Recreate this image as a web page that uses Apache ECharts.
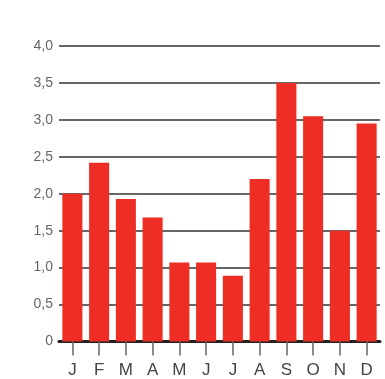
<!DOCTYPE html>
<html>
  <head>
    <meta charset="utf-8" />
    <script src="https://cdn.jsdelivr.net/npm/echarts@6/dist/echarts.min.js"></script>
    <style>
      html, body { margin: 0; padding: 0; background: #fff; }
      #main { width: 385px; height: 379px; }
    </style>
  </head>

  <body>
    <div id="main"></div>
    <script type="text/javascript">
      // months along the bottom
      var months = ['J', 'F', 'M', 'A', 'M', 'J', 'J', 'A', 'S', 'O', 'N', 'D'];
      // monthly values
      var values = [2.0, 2.42, 1.93, 1.68, 1.07, 1.07, 0.89, 2.2, 3.5, 3.05, 1.5, 2.95];
      var yTicks = ['0', '0,5', '1,0', '1,5', '2,0', '2,5', '3,0', '3,5', '4,0'];

      var myChart = echarts.init(document.getElementById('main'));

      var option = {
        animation: false,
        grid: { left: 59, right: 5, top: 46, bottom: 37.5 },
        xAxis: {
          type: 'category',
          data: months,
          axisLine: { lineStyle: { color: '#222', width: 3 } },
          axisTick: { show: true, alignWithLabel: true, length: 14, lineStyle: { color: '#666', width: 1.5 } },
          axisLabel: {
            margin: 20,
            fontSize: 17,
            color: '#444',
            fontFamily: 'Liberation Sans, Arial, sans-serif'
          }
        },
        yAxis: {
          type: 'value',
          min: 0,
          max: 4,
          interval: 0.5,
          axisLine: { show: false },
          axisTick: { show: false },
          splitLine: { lineStyle: { color: '#333', width: 1.5 } },
          axisLabel: {
            margin: 6,
            fontSize: 14,
            color: '#666',
            fontFamily: 'Liberation Sans, Arial, sans-serif',
            formatter: function (v) { return yTicks[Math.round(v * 2)]; }
          }
        },
        series: [
          {
            type: 'bar',
            data: values,
            barCategoryGap: '25%',
            itemStyle: { color: '#ee2e24' }
          }
        ]
      };

      myChart.setOption(option);
    </script>
  </body>
</html>
